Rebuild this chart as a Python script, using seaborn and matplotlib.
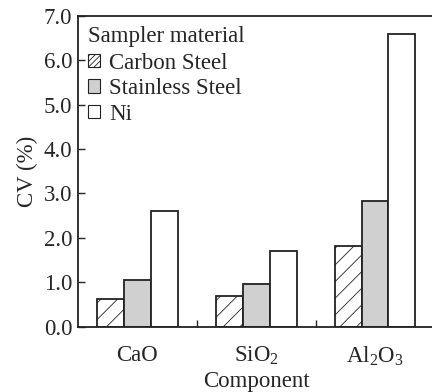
import seaborn as sns
import pandas as pd
import numpy as np
from matplotlib import pyplot as plt
from matplotlib.patches import Patch
from matplotlib.ticker import FixedLocator

components = ['CaO', 'SiO2', 'Al2O3']
tick_labels = ['CaO', 'SiO$_2$', 'Al$_2$O$_3$']
materials = ['Carbon Steel', 'Stainless Steel', 'Ni']
carbon_steel = [0.62, 0.68, 1.82]
stainless_steel = [1.05, 0.95, 2.82]
ni = [2.61, 1.70, 6.59]

colors = {'Carbon Steel': 'white', 'Stainless Steel': '#d0d0d0', 'Ni': 'white'}
hatches = {'Carbon Steel': '//', 'Stainless Steel': '', 'Ni': ''}

df = pd.DataFrame({
    'component': components * 3,
    'material': np.repeat(materials, 3),
    'cv': carbon_steel + stainless_steel + ni,
})

sns.set_style('ticks')
plt.rcParams['font.family'] = ['Liberation Serif', 'DejaVu Serif']
plt.rcParams['mathtext.fontset'] = 'custom'
plt.rcParams['mathtext.rm'] = 'Liberation Serif'
plt.rcParams['mathtext.it'] = 'Liberation Serif:italic'
plt.rcParams['hatch.linewidth'] = 0.6
plt.rcParams['hatch.color'] = '#333333'

fs = 16.5

fig = plt.figure(figsize=(4.32, 3.92), dpi=100)
ax = fig.add_axes([0.1806, 0.1666, 0.825, 0.7934])

sns.barplot(data=df, x='component', y='cv', hue='material', order=components,
            hue_order=materials, palette=colors, width=0.68,
            edgecolor='#222222', linewidth=1.3, ax=ax, legend=False)

for cont, mat in zip(ax.containers, materials):
    for bar in cont:
        bar.set_hatch(hatches[mat])

ax.set_ylim(0, 7.0)
ax.set_xlim(-0.5, 2.5)
ax.set_yticks(np.arange(0, 7.01, 1.0))
ax.set_yticklabels([f'{v:.1f}' for v in np.arange(0, 7.01, 1.0)], fontsize=fs)
ax.set_xticks(range(3))
ax.set_xticklabels(tick_labels, fontsize=fs)
ax.xaxis.set_minor_locator(FixedLocator([0.5, 1.5]))
ax.tick_params(axis='x', which='major', length=0, pad=13)
ax.tick_params(axis='x', which='minor', direction='in', length=5, width=1)
ax.tick_params(axis='y', direction='in', length=5, width=1, pad=4)
ax.set_ylabel('CV (%)', fontsize=fs, labelpad=4)
ax.set_xlabel('Component', fontsize=fs, va='center')
ax.xaxis.set_label_coords(0.5, -0.177)

for s in ['left', 'top', 'bottom']:
    ax.spines[s].set_linewidth(1.3)
    ax.spines[s].set_color('#222222')
ax.spines['right'].set_visible(False)

# legend swatches are tiny, so give the hatch a denser pattern there
handles = [Patch(facecolor=colors[m], edgecolor='#222222',
                 hatch=hatches[m] * 3, linewidth=0.8, label=m)
           for m in materials]
leg = ax.legend(handles=handles, title='Sampler material', loc='upper left',
                frameon=False, fontsize=fs, title_fontsize=fs,
                handlelength=0.5, handleheight=0.5, handletextpad=0.4,
                labelspacing=0.2, borderaxespad=0.25, borderpad=0.2)
leg._legend_box.align = 'left'
leg._legend_box.sep = 4

plt.savefig('out.png', dpi=100)
